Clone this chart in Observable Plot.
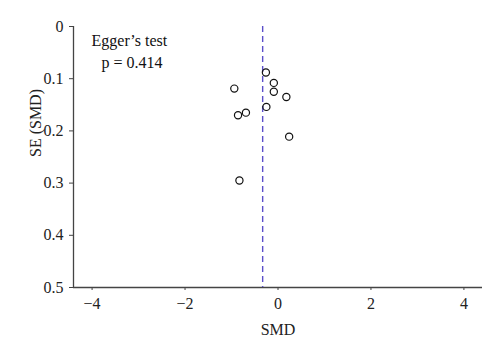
<!DOCTYPE html>
<html>
<head>
<meta charset="utf-8">
<script src="https://cdn.jsdelivr.net/npm/d3@7"></script>
<script src="https://cdn.jsdelivr.net/npm/@observablehq/plot@0.6"></script>
<style>
  html, body { margin: 0; padding: 0; background: #fff; }
  #chart { width: 500px; height: 352px; }
</style>
</head>
<body>
<div id="chart"></div>
<script>
// Study points: standardized mean difference and its standard error
const smd = [-0.26, -0.09, -0.09, 0.18, -0.94, -0.25, -0.69, -0.86, 0.24, -0.83];
const se  = [0.088, 0.108, 0.125, 0.135, 0.119, 0.154, 0.165, 0.170, 0.211, 0.295];
const pooledSMD = [-0.33];
const xTicks = [-4, -2, 0, 2, 4];
const yTicks = [0, 0.1, 0.2, 0.3, 0.4, 0.5];
const xDomain = [-4.4, 4.4];
const yDomain = [0, 0.5];
const annotation = ["Egger’s test", "p = 0.414"];
const xLabel = "SMD";
const yLabel = "SE (SMD)";

const points = smd.map((d, i) => ({smd: d, se: se[i]}));
const fmt = d => (d < 0 ? "\u2212" + (-d) : String(d));

const chart = Plot.plot({
  width: 500,
  height: 352,
  marginLeft: 73,
  marginRight: 18,
  marginTop: 26,
  marginBottom: 65,
  style: {fontFamily: "Liberation Serif", fontSize: "16px", color: "#222", background: "#fff"},
  x: {domain: xDomain, ticks: xTicks, tickFormat: fmt},
  y: {domain: yDomain, reverse: true, ticks: yTicks, tickFormat: d => String(d)},
  marks: [
    Plot.axisX({ticks: xTicks, tickFormat: fmt, tickSize: 3, tickPadding: 7, label: null, stroke: "#444", fill: "#222", fontSize: 16}),
    Plot.axisY({ticks: yTicks, tickFormat: d => String(d), tickSize: 4, tickPadding: 6, label: null, stroke: "#444", fill: "#222", fontSize: 16}),
    Plot.ruleX([xDomain[0]], {stroke: "#444", strokeWidth: 1.3}),
    Plot.ruleY([yDomain[1]], {stroke: "#444", strokeWidth: 1.3}),
    Plot.ruleX(pooledSMD, {stroke: "#5b4fc9", strokeWidth: 1.4, strokeDasharray: "6,4"}),
    Plot.dot(points, {x: "smd", y: "se", r: 3.6, stroke: "#111", strokeWidth: 1.2, fill: "none"}),
    Plot.text([annotation[0]], {frameAnchor: "top-left", dx: 18, dy: 8, textAnchor: "start", fontSize: 16, fill: "#111"}),
    Plot.text([annotation[1]], {frameAnchor: "top-left", dx: 28, dy: 30, textAnchor: "start", fontSize: 16, fill: "#111"}),
    Plot.text([xLabel], {frameAnchor: "bottom", dy: 47, fontSize: 16, fill: "#222"}),
    Plot.text([yLabel], {frameAnchor: "left", dx: -38, rotate: -90, fontSize: 16, fill: "#222"})
  ]
});
document.getElementById("chart").appendChild(chart);
</script>
</body>
</html>
